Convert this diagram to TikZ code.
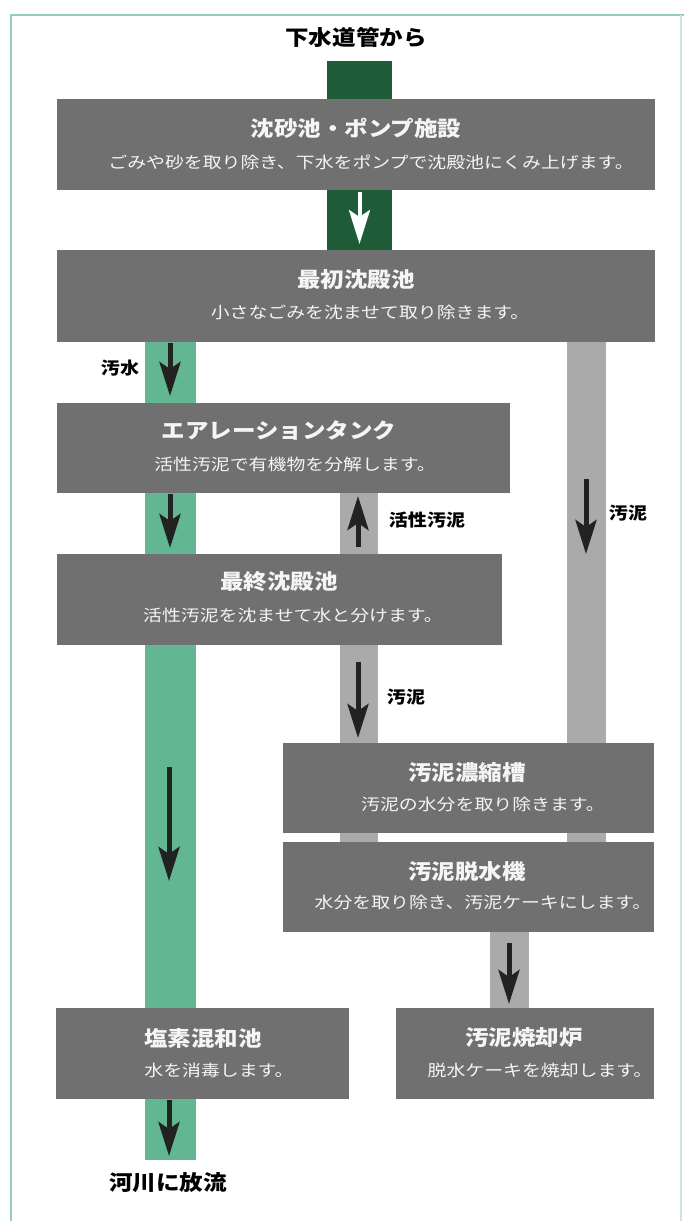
\documentclass[tikz,border=0pt]{standalone}
\usepackage{fontspec}
\usetikzlibrary{arrows.meta}
\newfontfamily\jpt[FakeStretch=1.12]{Noto Sans CJK JP}
\newfontfamily\jps[FakeStretch=1.18]{Noto Sans CJK JP}
\definecolor{boxgray}{RGB}{112,112,112}
\definecolor{pipegray}{RGB}{170,170,170}
\definecolor{darkgreen}{RGB}{30,92,56}
\definecolor{lightgreen}{RGB}{98,182,146}
\definecolor{arrowdark}{RGB}{34,34,34}
\definecolor{framegreen}{RGB}{150,205,180}
\definecolor{boxtext}{RGB}{245,245,245}
\begin{document}
\begin{tikzpicture}[x=1pt,y=-1pt,
  box/.style={fill=boxgray,draw=none,anchor=north west,inner sep=0pt},
  ttl/.style={text=boxtext,font=\jpt\bfseries\fontsize{21}{24}\selectfont,inner sep=0pt},
  sub/.style={text=boxtext,font=\jps\fontsize{16}{19}\selectfont,inner sep=0pt},
  lbl/.style={text=black,font=\jpt\bfseries\fontsize{17}{20}\selectfont,inner sep=0pt},
  endlbl/.style={text=black,font=\jpt\bfseries\fontsize{21}{24}\selectfont,inner sep=0pt},
  pipe/.style={draw=none},
  flow/.style={draw=arrowdark,line width=5pt,-{Stealth[length=34pt,width=21pt,inset=7pt]}},
  wflow/.style={draw=white,line width=4pt,-{Stealth[length=34pt,width=21pt,inset=7pt]}}
]
\useasboundingbox (0,0) rectangle (684,1221);
\fill[white] (0,0) rectangle (684,1221);
% frame
\draw[framegreen,line width=2pt] (11,1221) -- (11,15) -- (684,15);
\draw[framegreen!50,line width=1.5pt] (681,15) -- (681,1221);

% pipes
\fill[darkgreen] (327,61) rectangle (392,250);
\fill[lightgreen] (145,342) rectangle (196,1160);
\fill[pipegray] (340,493) rectangle (378,880);
\fill[pipegray] (567,342) rectangle (606,880);
\fill[pipegray] (490,932) rectangle (529,1008);

% boxes
\node[box,minimum width=598pt,minimum height=91pt] (b1) at (57,99) {};
\node[box,minimum width=598pt,minimum height=92pt] (b2) at (57,250) {};
\node[box,minimum width=453pt,minimum height=90pt] (b3) at (57,403) {};
\node[box,minimum width=445pt,minimum height=91pt] (b4) at (57,554) {};
\node[box,minimum width=371pt,minimum height=90pt] (b5) at (283,743) {};
\node[box,minimum width=371pt,minimum height=90pt] (b6) at (283,842) {};
\node[box,minimum width=293pt,minimum height=91pt] (b7) at (56,1008) {};
\node[box,minimum width=258pt,minimum height=91pt] (b8) at (396,1008) {};

% box texts
\node[ttl] (t1) at (356,128) {沈砂池・ポンプ施設};
\node[sub] (s1) at (371,162) {ごみや砂を取り除き、下水をポンプで沈殿池にくみ上げます。};
\node[ttl] (t2) at (356,280) {最初沈殿池};
\node[sub] (s2) at (370,312) {小さなごみを沈ませて取り除きます。};
\node[ttl] (t3) at (279,430) {エアレーションタンク};
\node[sub] (s3) at (295,464) {活性汚泥で有機物を分解します。};
\node[ttl] (t4) at (279,582) {最終沈殿池};
\node[sub] (s4) at (293,615) {活性汚泥を沈ませて水と分けます。};
\node[ttl] (t5) at (467,773) {汚泥濃縮槽};
\node[sub] (s5) at (483,804) {汚泥の水分を取り除きます。};
\node[ttl] (t6) at (467,872) {汚泥脱水機};
\node[sub] (s6) at (483,902) {水分を取り除き、汚泥ケーキにします。};
\node[ttl] (t7) at (203,1038) {塩素混和池};
\node[sub] (s7) at (219,1070) {水を消毒します。};
\node[ttl] (t8) at (524,1038) {汚泥焼却炉};
\node[sub] (s8) at (540,1070) {脱水ケーキを焼却します。};

% top / bottom labels
\node[endlbl] (src) at (356,37) {下水道管から};
\node[endlbl] (dst) at (168,1183) {河川に放流};

% side labels
\node[lbl] (l1) at (120,368) {汚水};
\node[lbl] (l2) at (628,513) {汚泥};
\node[lbl] (l3) at (427,520) {活性汚泥};
\node[lbl] (l4) at (406,697) {汚泥};

% arrow coordinates
\coordinate (w0) at (359.5,192); \coordinate (w1) at (359.5,244);
\coordinate (a1s) at (170,343); \coordinate (a1e) at (170,396);
\coordinate (a2s) at (170,494); \coordinate (a2e) at (170,548);
\coordinate (a3s) at (358,547); \coordinate (a3e) at (358,496);
\coordinate (a4s) at (586,479); \coordinate (a4e) at (586,554);
\coordinate (a5s) at (358,662); \coordinate (a5e) at (358,738);
\coordinate (a6s) at (169,767); \coordinate (a6e) at (169,881);
\coordinate (a7s) at (509,943); \coordinate (a7e) at (509,1004);
\coordinate (a8s) at (169,1100); \coordinate (a8e) at (169,1156);

\draw[wflow] (w0) -- (w1);
\draw[flow] (a1s) -- (a1e);
\draw[flow] (a2s) -- (a2e);
\draw[flow] (a3s) -- (a3e);
\draw[flow] (a4s) -- (a4e);
\draw[flow] (a5s) -- (a5e);
\draw[flow] (a6s) -- (a6e);
\draw[flow] (a7s) -- (a7e);
\draw[flow] (a8s) -- (a8e);
\end{tikzpicture}
\end{document}
